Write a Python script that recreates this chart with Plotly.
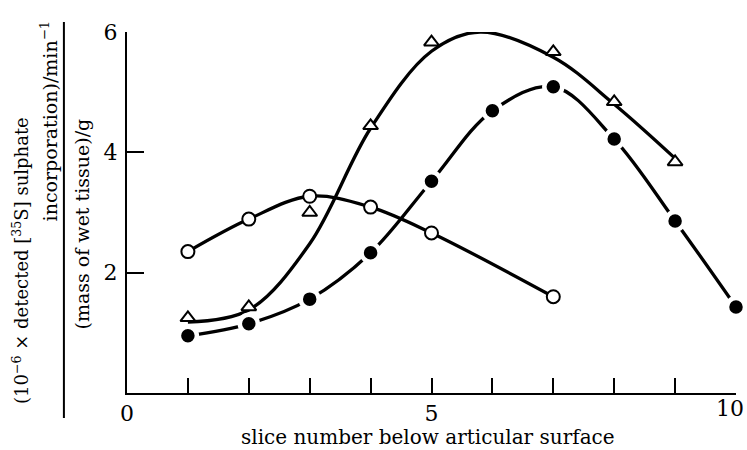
import plotly.graph_objects as go

# Sulphate incorporation per slice (three series)
open_x = [1, 2, 3, 4, 5, 7]
open_y = [2.35, 2.89, 3.27, 3.09, 2.66, 1.60]

filled_x = [1, 2, 3, 4, 5, 6, 7, 8, 9, 10]
filled_y = [0.95, 1.15, 1.56, 2.33, 3.52, 4.69, 5.09, 4.22, 2.86, 1.43]

tri_x = [1, 2, 3, 4, 5, 6, 7, 8, 9]
tri_y = [1.25, 1.43, 3.00, 4.44, 5.83, 6.08, 5.67, 4.84, 3.84]

# smooth fitted curve drawn through the triangle series
tri_fit_x = [1, 2, 3, 4, 5, 5.8, 7, 8, 9]
tri_fit_y = [1.18, 1.38, 2.48, 4.40, 5.68, 6.00, 5.58, 4.80, 3.90]

x_ticks = list(range(0, 11))
x_ticktext = ["0", "", "", "", "", "5", "", "", "", "", ""]
x_end_label = "10"
y_ticks = [2, 4, 6]
y_ticktext = ["2", "4", "6"]

FONT = "DejaVu Serif"
INK = "black"
LW = 3.3

fig = go.Figure()

# fitted curve for the triangles
fig.add_trace(go.Scatter(
    x=tri_fit_x, y=tri_fit_y, mode="lines",
    line=dict(color=INK, width=LW, shape="spline"),
    cliponaxis=False, hoverinfo="skip",
))

# open circles with their curve
fig.add_trace(go.Scatter(
    x=open_x, y=open_y, mode="lines+markers",
    line=dict(color=INK, width=LW, shape="spline"),
    marker=dict(symbol="circle", size=13, color="white",
                line=dict(color=INK, width=2)),
    cliponaxis=False,
))

# filled circles; white ring breaks the line around each point
fig.add_trace(go.Scatter(
    x=filled_x, y=filled_y, mode="lines+markers",
    line=dict(color=INK, width=LW, shape="spline"),
    marker=dict(symbol="circle", size=18, color=INK,
                line=dict(color="white", width=4.5)),
    cliponaxis=False,
))

# triangles
fig.add_trace(go.Scatter(
    x=tri_x, y=tri_y, mode="markers",
    marker=dict(symbol="triangle-up", size=13, color="white",
                line=dict(color=INK, width=2)),
    cliponaxis=False,
))

fig.update_layout(
    width=747, height=450,
    margin=dict(l=127, r=11, t=32, b=57),
    paper_bgcolor="white", plot_bgcolor="white",
    showlegend=False,
    font=dict(family=FONT, size=20, color=INK),
    xaxis=dict(
        range=[0, 10], tickmode="array", tickvals=x_ticks, ticktext=x_ticktext,
        ticks="inside", ticklen=15, tickwidth=1.8, tickcolor=INK,
        showline=True, linecolor=INK, linewidth=2,
        showgrid=False, zeroline=False, automargin=False,
        tickfont=dict(family=FONT, size=22, color=INK),
    ),
    yaxis=dict(
        range=[0, 6], tickmode="array", tickvals=y_ticks, ticktext=y_ticktext,
        ticks="inside", ticklen=17, tickwidth=1.8, tickcolor=INK,
        showline=True, linecolor=INK, linewidth=2,
        showgrid=False, zeroline=False, ticklabelstandoff=3,
        ticklabeloverflow="allow", automargin=False,
        tickfont=dict(family=FONT, size=22, color=INK),
    ),
)

# last x tick label, kept inside the page's right edge
fig.add_annotation(
    text=x_end_label, xref="paper", yref="paper", x=1.014, y=-0.042,
    xanchor="right", yanchor="middle", showarrow=False, borderpad=0,
    font=dict(family=FONT, size=22, color=INK),
)

# x-axis title
fig.add_annotation(
    text="slice number below articular surface",
    xref="paper", yref="paper", x=0.494, y=-0.1219,
    xanchor="center", yanchor="middle", showarrow=False,
    font=dict(family=FONT, size=20, color=INK),
)

# y-axis title, written as a fraction
fig.add_annotation(
    text="(10<sup>−6</sup> × detected [<sup>35</sup>S] sulphate",
    xref="paper", yref="paper", x=-0.1743, y=0.368,
    xanchor="center", yanchor="middle", textangle=-90, showarrow=False,
    font=dict(family=FONT, size=18, color=INK),
)
fig.add_annotation(
    text="incorporation)/min<sup>−1</sup>",
    xref="paper", yref="paper", x=-0.1283, y=0.7548,
    xanchor="center", yanchor="middle", textangle=-90, showarrow=False,
    font=dict(family=FONT, size=19, color=INK),
)
fig.add_shape(
    type="line", xref="paper", yref="paper",
    x0=-0.1036, x1=-0.1036, y0=-0.0693, y1=1.0277,
    line=dict(color=INK, width=2),
)
fig.add_annotation(
    text="(mass of wet tissue)/g",
    xref="paper", yref="paper", x=-0.0740, y=0.4695,
    xanchor="center", yanchor="middle", textangle=-90, showarrow=False,
    font=dict(family=FONT, size=19, color=INK),
)

fig.write_html("out.html")
